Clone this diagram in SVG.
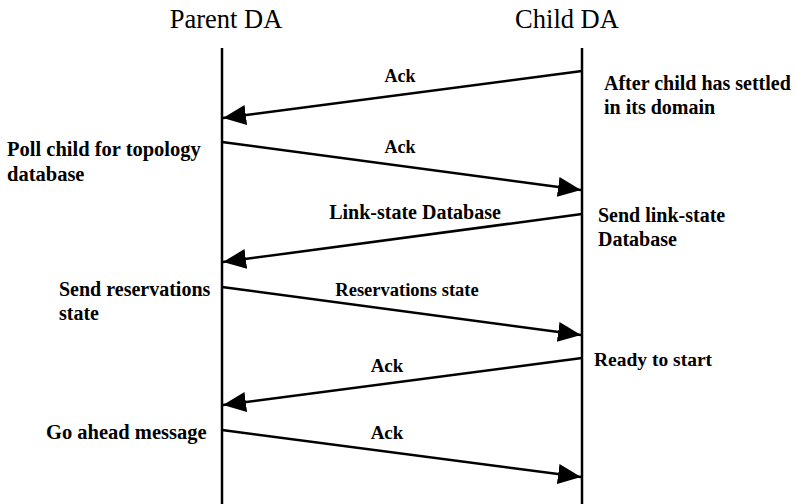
<svg xmlns="http://www.w3.org/2000/svg" width="796" height="504" viewBox="0 0 796 504">
<style>
.t{font-family:"Liberation Serif","Times New Roman",serif;fill:#000}
.title{font-size:26.5px}
.lb{font-size:20px;font-weight:bold}
.sm{font-size:18px}
.ll{stroke:#000;stroke-width:2.5;fill:none}
.msg{stroke:#000;stroke-width:2.5;fill:none;marker-end:url(#ah)}
</style>
<defs>
<marker id="ah" markerUnits="userSpaceOnUse" markerWidth="26" markerHeight="22" refX="23" refY="10" orient="auto" viewBox="0 0 26 20">
<path d="M0,0 L23,10 L0,20 Z" fill="#000"/>
</marker>
</defs>
<rect width="796" height="504" fill="#fff"/>
<g id="parent">
<text class="t title" x="226" y="28" text-anchor="middle">Parent DA</text>
<line class="ll" x1="222" y1="48" x2="222" y2="504"/>
</g>
<g id="child">
<text class="t title" x="567" y="28" text-anchor="middle">Child DA</text>
<line class="ll" x1="582" y1="48" x2="582" y2="504"/>
</g>
<g id="connectors">
<line class="msg" x1="582" y1="71" x2="223" y2="118"/>
<line class="msg" x1="222" y1="142" x2="581" y2="190"/>
<line class="msg" x1="582" y1="214" x2="223" y2="262"/>
<line class="msg" x1="222" y1="287" x2="581" y2="335"/>
<line class="msg" x1="582" y1="358" x2="223" y2="405"/>
<line class="msg" x1="222" y1="430" x2="581" y2="477"/>
</g>
<g id="labels">
<text class="t lb sm" x="400" y="82" text-anchor="middle">Ack</text>
<text class="t lb sm" x="400" y="153" text-anchor="middle">Ack</text>
<text class="t lb" x="415" y="219" text-anchor="middle">Link-state Database</text>
<text class="t lb" x="407" y="296" text-anchor="middle" style="font-size:18.5px">Reservations state</text>
<text class="t lb" x="387" y="372" text-anchor="middle" style="font-size:19px">Ack</text>
<text class="t lb" x="387" y="439" text-anchor="middle" style="font-size:19px">Ack</text>
</g>
<g id="notes">
<text class="t lb" x="7" y="156" style="font-size:20.5px">Poll child for topology</text>
<text class="t lb" x="7" y="181" style="font-size:20.5px">database</text>
<text class="t lb" x="59" y="296">Send reservations</text>
<text class="t lb" x="59" y="320">state</text>
<text class="t lb" x="46" y="439" style="font-size:20.5px">Go ahead message</text>
<text class="t lb" x="604" y="90">After child has settled</text>
<text class="t lb" x="604" y="114">in its domain</text>
<text class="t lb" x="598" y="222">Send link-state</text>
<text class="t lb" x="598" y="246">Database</text>
<text class="t lb" x="594" y="366" style="font-size:19.5px">Ready to start</text>
</g>
</svg>
